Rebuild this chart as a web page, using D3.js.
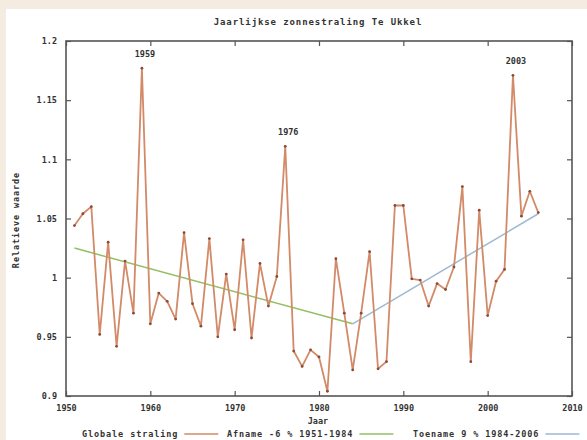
<!DOCTYPE html>
<html>
<head>
<meta charset="utf-8">
<script src="https://cdn.jsdelivr.net/npm/d3@7"></script>
<style>
  html, body { margin: 0; padding: 0; background: #f4ebe1; }
  #chart { width: 587px; height: 440px; }
  text { font-family: "DejaVu Sans Mono", monospace; font-weight: bold; fill: #333; }
</style>
</head>
<body>
<div id="chart"></div>
<script>
// ─── Data ──────────────────────────────────────────────────────
const years = d3.range(1951, 2007);
const radiation = [
  1.044, 1.054, 1.060, 0.952, 1.030, 0.942, 1.014, 0.970, 1.177, 0.961,
  0.987, 0.980, 0.965, 1.038, 0.978, 0.959, 1.033, 0.950, 1.003, 0.956,
  1.032, 0.949, 1.012, 0.976, 1.001, 1.111, 0.938, 0.925, 0.939, 0.933,
  0.904, 1.016, 0.970, 0.922, 0.970, 1.022, 0.923, 0.929, 1.061, 1.061,
  0.999, 0.998, 0.976, 0.995, 0.990, 1.009, 1.077, 0.929, 1.057, 0.968,
  0.997, 1.007, 1.171, 1.052, 1.073, 1.055
];
const trendDownYears = [1951, 1984];
const trendDownValues = [1.025, 0.961];
const trendUpYears = [1984, 2006];
const trendUpValues = [0.961, 1.054];
const peakYears = [1959, 1976, 2003];
const xTicks = [1950, 1960, 1970, 1980, 1990, 2000, 2010];
const yTicks = [0.9, 0.95, 1, 1.05, 1.1, 1.15, 1.2];

const title = "Jaarlijkse zonnestraling Te Ukkel";
const legendItems = ["Globale straling", "Afname -6 % 1951-1984", "Toename 9 % 1984-2006"];

// ─── Layout ────────────────────────────────────────────────────
const fullW = 587, fullH = 440;
const m = { top: 41, right: 15, bottom: 44, left: 66 };
const w = 506, h = 355;

const svg = d3.select("#chart").append("svg")
  .attr("width", fullW)
  .attr("height", fullH);

// white panel on beige page
svg.append("rect")
  .attr("x", 6).attr("y", 9)
  .attr("width", fullW - 6).attr("height", fullH - 9)
  .attr("fill", "#fff");

const g = svg.append("g").attr("transform", `translate(${m.left},${m.top})`);

// ─── Scales ────────────────────────────────────────────────────
const x = d3.scaleLinear().domain([1950, 2010]).range([0, w]);
const y = d3.scaleLinear().domain([0.9, 1.2]).range([h, 0]);

// ─── Axes (gnuplot style: inward ticks, mirrored) ─────────────
const fmtY = d => d3.format("")(+d.toFixed(2));
const styleAxis = sel => {
  sel.select(".domain").remove();
  sel.selectAll(".tick line").attr("stroke", "#555").attr("stroke-width", 1.2);
  sel.selectAll(".tick text").style("font-size", "8.5px").attr("fill", "#333");
};

g.append("g")
  .attr("transform", `translate(0,${h})`)
  .call(d3.axisBottom(x).tickValues(xTicks).tickFormat(d3.format("d")).tickSizeInner(-5).tickPadding(9))
  .call(styleAxis);
g.append("g")
  .call(d3.axisTop(x).tickValues(xTicks).tickFormat("").tickSizeInner(-5))
  .call(styleAxis);
g.append("g")
  .call(d3.axisLeft(y).tickValues(yTicks).tickFormat(fmtY).tickSizeInner(-5).tickPadding(9))
  .call(styleAxis);
g.append("g")
  .attr("transform", `translate(${w},0)`)
  .call(d3.axisRight(y).tickValues(yTicks).tickFormat("").tickSizeInner(-5))
  .call(styleAxis);

g.append("rect")
  .attr("width", w).attr("height", h)
  .attr("fill", "none")
  .attr("stroke", "#555")
  .attr("stroke-width", 1.6);

// ─── Titles ────────────────────────────────────────────────────
svg.append("text")
  .attr("x", 318).attr("y", 25)
  .attr("text-anchor", "middle")
  .style("font-size", "9px")
  .style("letter-spacing", "0.9px")
  .text(title);

svg.append("text")
  .attr("x", 318).attr("y", 424)
  .attr("text-anchor", "middle")
  .style("font-size", "8.5px")
  .text("Jaar");

svg.append("text")
  .attr("transform", "translate(19,220) rotate(-90)")
  .attr("text-anchor", "middle")
  .style("font-size", "8.5px")
  .style("letter-spacing", "0.9px")
  .text("Relatieve waarde");

// ─── Trend lines ──────────────────────────────────────────────
const line = d3.line().x(d => x(d[0])).y(d => y(d[1]));

g.append("path")
  .datum(d3.zip(trendDownYears, trendDownValues))
  .attr("d", line)
  .attr("fill", "none")
  .attr("stroke", "#93bf63")
  .attr("stroke-width", 1.5);

g.append("path")
  .datum(d3.zip(trendUpYears, trendUpValues))
  .attr("d", line)
  .attr("fill", "none")
  .attr("stroke", "#9dbad2")
  .attr("stroke-width", 1.5);

// ─── Data series ──────────────────────────────────────────────
const series = d3.zip(years, radiation);

g.append("path")
  .datum(series)
  .attr("d", line)
  .attr("fill", "none")
  .attr("stroke", "#d28a68")
  .attr("stroke-width", 1.8)
  .attr("stroke-linejoin", "round");

g.selectAll("circle.pt")
  .data(series)
  .join("circle")
  .attr("class", "pt")
  .attr("cx", d => x(d[0]))
  .attr("cy", d => y(d[1]))
  .attr("r", 1.4)
  .attr("fill", "#8a4b38");

// ─── Peak labels ──────────────────────────────────────────────
g.selectAll("text.peak")
  .data(peakYears)
  .join("text")
  .attr("class", "peak")
  .attr("x", d => x(d) + 3)
  .attr("y", d => y(radiation[years.indexOf(d)]) - 11)
  .attr("text-anchor", "middle")
  .style("font-size", "8.5px")
  .text(d => d);

// ─── Legend (key along bottom edge) ───────────────────────────
const legendColors = ["#d28a68", "#93bf63", "#9dbad2"];
const legendX = [82, 227, 413];
const legend = svg.append("g").attr("transform", "translate(0,437)");
legendItems.forEach((t, i) => {
  const txt = legend.append("text")
    .attr("x", legendX[i]).attr("y", 0)
    .style("font-size", "8.5px")
    .style("letter-spacing", "0.9px")
    .text(t);
  const end = legendX[i] + txt.node().getComputedTextLength() + 6;
  legend.append("line")
    .attr("x1", end).attr("x2", Math.min(end + 34, fullW))
    .attr("y1", -3).attr("y2", -3)
    .attr("stroke", legendColors[i])
    .attr("stroke-width", 1.6);
});
</script>
</body>
</html>
